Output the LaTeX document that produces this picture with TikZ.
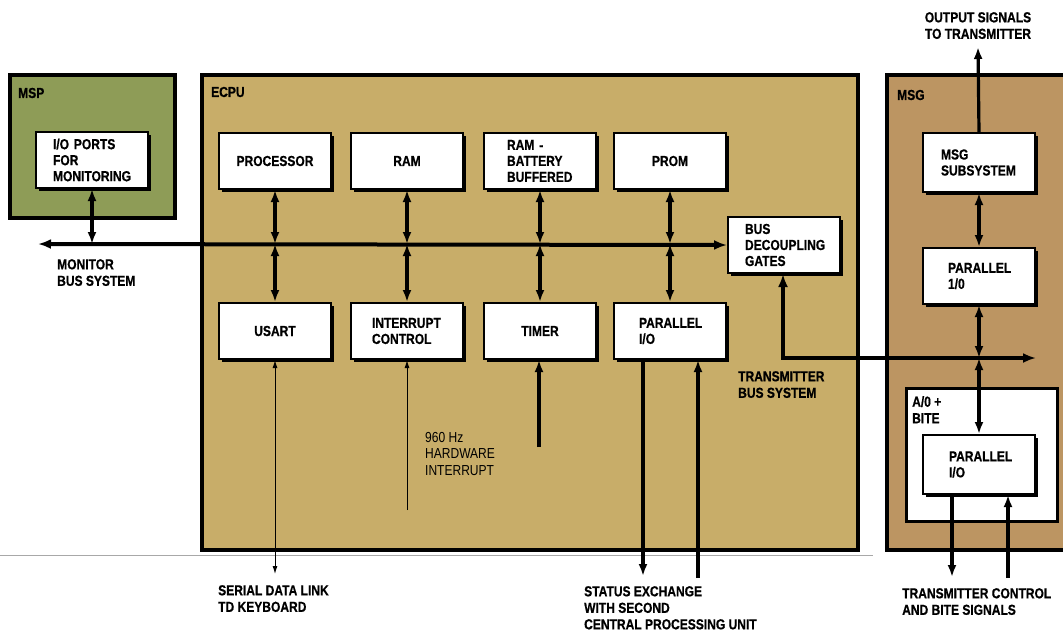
\documentclass[tikz,border=0pt]{standalone}
\usepackage{fontspec}
\setmainfont{Liberation Sans}[FakeStretch=0.83, BoldFeatures={FakeBold=0.6}]
\usetikzlibrary{arrows.meta,shadows}
\hyphenpenalty=10000
\exhyphenpenalty=10000
\uchyph=0
\definecolor{mspgreen}{HTML}{8E9C57}
\definecolor{ecputan}{HTML}{C8AD69}
\definecolor{msgbrown}{HTML}{BC9562}
\definecolor{scangray}{HTML}{A8A8A8}
\tikzset{
  cont/.style={draw, line width=3.5pt, inner sep=0pt, anchor=north west},
  lab/.style={font=\bfseries\fontsize{14.5}{16.5}\selectfont, inner sep=0pt, align=left, anchor=north west},
  thinlab/.style={font=\fontsize{14.5}{16.5}\selectfont, inner sep=0pt, align=left, anchor=north west},
  wbox/.style={draw, line width=2pt, fill=white, minimum width=112pt, minimum height=56pt,
    inner sep=0pt, font=\bfseries\fontsize{14.5}{16}\selectfont, anchor=north west,
    general shadow={fill=black, shadow xshift=3pt, shadow yshift=-3pt}},
  lbox/.style={wbox, align=left, text width=#1},
  dar/.style={line width=3.2pt, {Latex[length=12pt,width=9pt]}-{Latex[length=12pt,width=9pt]}},
  sar/.style={line width=3.2pt, -{Latex[length=12pt,width=9pt]}},
  busline/.style={line width=4pt},
  thinar/.style={line width=1pt, -{Latex[length=8pt,width=5pt]}},
}
\begin{document}
\begin{tikzpicture}[x=1pt,y=-1pt]
\useasboundingbox (0,0) rectangle (1063,633);
\clip (0,0) rectangle (1063,633);
\fill[white] (0,0) rectangle (1063,633);

% containers
\node[cont, fill=mspgreen, minimum width=165pt, minimum height=143pt] (msp) at (8,73) {};
\node[cont, fill=ecputan, minimum width=656pt, minimum height=475pt] (ecpu) at (200,73) {};
\node[cont, fill=msgbrown, minimum width=200pt, minimum height=475pt] (msg) at (885,73) {};
\node[lab, anchor=west] (msplab) at (18,93) {MSP};
\node[lab, anchor=west] (ecpulab) at (211,92) {ECPU};
\node[lab, anchor=west] (msglab) at (897,95) {MSG};

% scan line
\coordinate (gl1) at (0,555);
\coordinate (gl2) at (873,555);
\draw[scangray, line width=0.8pt] (gl1) -- (gl2);

% MSP
\node[lbox=78pt] (io) at (35,131) {I/O PORTS\\FOR\\MONITORING};

% ECPU top row
\node[wbox] (proc) at (218,132) {PROCESSOR};
\node[wbox] (ram) at (350,132) {RAM};
\node[lbox=66pt] (ramb) at (483,132) {RAM -\\BATTERY\\BUFFERED};
\node[wbox] (prom) at (613,132) {PROM};
% ECPU bottom row
\node[wbox] (usart) at (218,302) {USART};
\node[lbox=70pt] (intc) at (350,302) {INTERRUPT\\CONTROL};
\node[wbox] (timer) at (483,302) {TIMER};
\node[lbox=62pt] (par) at (613,302) {PARALLEL\\I/O};
% gates
\node[lbox=78pt] (gates) at (727,216) {BUS\\DECOUPLING\\GATES};

% MSG side
\node[lbox=76pt, minimum height=59pt] (msgsub) at (922,132) {MSG\\SUBSYSTEM};
\node[lbox=62pt] (msgpar) at (922,247) {PARALLEL\\1/0};
\node[draw, line width=2.5pt, fill=white, inner sep=0pt, anchor=north west,
      minimum width=151pt, minimum height=133pt] (bite) at (905,387) {};
\node[lab, anchor=north west] (bitelab) at (912,396) {A/0 +\\BITE};
\node[lbox=60pt, minimum height=59pt] (ipar) at (922,434) {PARALLEL\\I/O};

% monitor bus
\coordinate (mbL) at (38,244);
\draw[busline, {Latex[length=13pt,width=10pt]}-{Latex[length=13pt,width=10pt]}] (mbL) -- (gates.west);
\draw[dar] (io.south) -- (io.south |- mbL);
\foreach \b/\c in {proc/usart, ram/intc, ramb/timer, prom/par}{
  \draw[dar] (\b.south) -- (\b.south |- mbL);
  \draw[dar] (\b.south |- mbL) -- (\c.north);
}

% transmitter bus
\coordinate (tb) at (783,358);
\coordinate (tbR) at (1036,358);
\draw[busline, {Latex[length=13pt,width=10pt]}-{Latex[length=13pt,width=10pt]}] (gates.south -| tb) -- (tb) -- (tbR);
\draw[dar] (msgsub.south) -- (msgpar.north);
\draw[dar] (msgpar.south) -- (msgpar.south |- tb);
\draw[dar] (msgpar.south |- tb) -- (ipar.north);
\coordinate (outtop) at (978,47);
\draw[sar] (msgsub.north) -- (outtop);

% ECPU bottom signals
\coordinate (ser) at (275,574);
\draw[line width=1pt, {Latex[length=8pt,width=5pt]}-{Latex[length=8pt,width=5pt]}] (usart.south -| ser) -- (ser);
\coordinate (hw) at (407,510);
\draw[thinar] (hw) -- (intc.south -| hw);
\coordinate (tm) at (539,447);
\draw[sar] (tm) -- (timer.south -| tm);
\coordinate (st1) at (643,576);
\coordinate (st2) at (698,578);
\draw[sar] (par.south -| st1) -- (st1);
\draw[sar] (st2) -- (par.south -| st2);

% MSG bottom signals
\coordinate (tc1) at (952,577);
\coordinate (tc2) at (1008,578);
\draw[sar] (ipar.south -| tc1) -- (tc1);
\draw[sar] (tc2) -- (ipar.south -| tc2);

% labels
\node[lab] (outlab) at (978,12) [anchor=north, align=center] {OUTPUT SIGNALS\\TO TRANSMITTER};
\node[lab] (monlab) at (57,259) {MONITOR\\BUS SYSTEM};
\node[lab] (tbslab) at (738,371) {TRANSMITTER\\BUS SYSTEM};
\node[thinlab] (hwlab) at (425,432) {960 Hz\\HARDWARE\\INTERRUPT};
\node[lab] (serlab) at (218,585) {SERIAL DATA LINK\\TD KEYBOARD};
\node[lab] (stlab) at (584,586) {STATUS EXCHANGE\\WITH SECOND\\CENTRAL PROCESSING UNIT};
\node[lab] (tclab) at (902,588) {TRANSMITTER CONTROL\\AND BITE SIGNALS};
\end{tikzpicture}
\end{document}
